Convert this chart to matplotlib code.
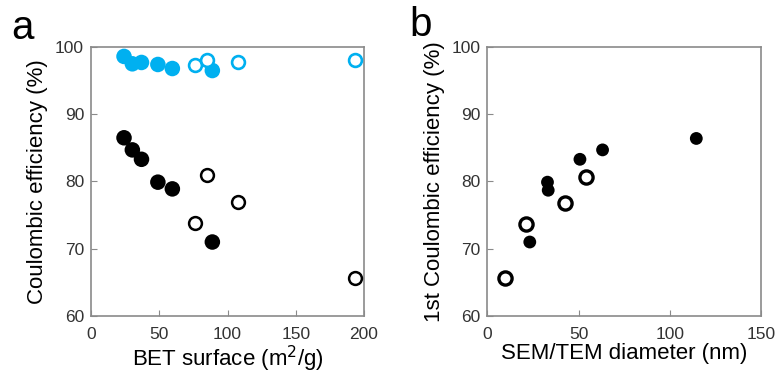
"""Coulombic efficiency vs BET surface and particle diameter (two-panel scatter)."""
import matplotlib.pyplot as plt
import matplotlib

matplotlib.rcParams['font.family'] = ['Liberation Sans', 'DejaVu Sans']

BLUE = '#00b0f0'

# Panel a: BET surface (m2/g) vs efficiency
bet_filled = [24.2, 30.3, 37.0, 49.0, 59.6, 88.9]
first_ce_filled = [86.5, 84.7, 83.3, 79.9, 78.9, 71.0]
later_ce_filled = [98.6, 97.5, 97.7, 97.4, 96.8, 96.5]

bet_open = [76.4, 85.2, 107.4, 193.2]
first_ce_open = [73.9, 80.9, 76.9, 65.7]
later_ce_open = [97.3, 98.0, 97.8, 98.0]

# Panel b: SEM/TEM diameter (nm) vs 1st efficiency
diam_filled = [114.5, 63.1, 50.7, 32.9, 33.3, 23.2]
diam_ce_filled = [86.4, 84.7, 83.3, 79.9, 78.7, 71.0]
diam_open = [9.7, 21.2, 42.6, 53.8]
diam_ce_open = [65.6, 73.7, 76.8, 80.7]

fig = plt.figure(figsize=(7.75, 3.76), dpi=100)
ax_a = fig.add_axes([0.1174, 0.1596, 0.3523, 0.7154])
ax_b = fig.add_axes([0.629, 0.1596, 0.353, 0.7154])


def style(ax, xmax, xlabel, ylabel):
    ax.set_xlim(0, xmax)
    ax.set_ylim(60, 100)
    ax.set_yticks([60, 70, 80, 90, 100])
    for s in ax.spines.values():
        s.set_color('#8a8a8a')
        s.set_linewidth(1.2)
    ax.tick_params(direction='in', length=4, color='#8a8a8a',
                   labelsize=12.5, labelcolor='#333333')
    ax.tick_params(axis='x', pad=8)
    ax.tick_params(axis='y', pad=5)
    ax.set_xlabel(xlabel, fontsize=16, labelpad=1)
    ax.set_ylabel(ylabel, fontsize=16, labelpad=5)


# Panel a
ax_a.scatter(bet_filled, later_ce_filled, s=125, color=BLUE, edgecolor='none', zorder=3)
ax_a.scatter(bet_open, later_ce_open, s=85, facecolor='white', edgecolor=BLUE,
             linewidth=1.9, zorder=3)
ax_a.scatter(bet_filled, first_ce_filled, s=125, color='black', edgecolor='none', zorder=3)
ax_a.scatter(bet_open, first_ce_open, s=85, facecolor='white', edgecolor='black',
             linewidth=1.8, zorder=3)
ax_a.set_xticks([0, 50, 100, 150, 200])
style(ax_a, 200, 'BET surface (m$^{2}$/g)', 'Coulombic efficiency (%)')

# Panel b
ax_b.scatter(diam_filled, diam_ce_filled, s=85, color='black', edgecolor='none', zorder=3)
ax_b.scatter(diam_open, diam_ce_open, s=90, facecolor='white', edgecolor='black',
             linewidth=2.4, zorder=3)
ax_b.set_xticks([0, 50, 100, 150])
style(ax_b, 150, 'SEM/TEM diameter (nm)', '1st Coulombic efficiency (%)')

fig.text(0.014, 0.975, 'a', fontsize=29, va='top', ha='left')
fig.text(0.528, 0.985, 'b', fontsize=29, va='top', ha='left')

plt.savefig('out.png', dpi=100, facecolor='white')
print('OK: out.png')
